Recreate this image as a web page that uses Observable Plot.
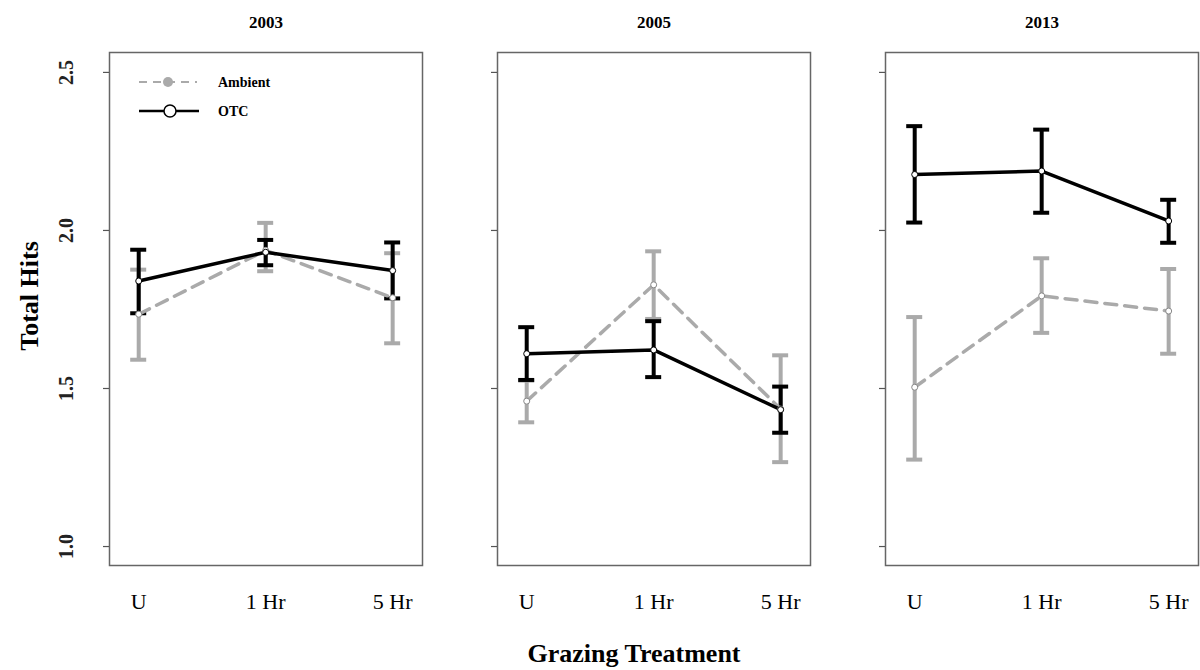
<!DOCTYPE html>
<html>
<head>
<meta charset="utf-8">
<script src="https://cdn.jsdelivr.net/npm/d3@7"></script>
<script src="https://cdn.jsdelivr.net/npm/@observablehq/plot@0.6"></script>
<style>
  body { margin: 0; background: #fff; }
  #wrap { position: relative; width: 1200px; height: 670px; font-family: "Liberation Serif", "Times New Roman", serif; }
  #ylab { position: absolute; left: 30px; top: 296px; transform: translate(-50%, -50%) rotate(-90deg); font-weight: bold; font-size: 26px; white-space: nowrap; }
  #xlab { position: absolute; left: 634px; top: 654px; transform: translate(-50%, -50%); font-weight: bold; font-size: 26px; white-space: nowrap; }
  #legend { position: absolute; left: 0; top: 0; }
</style>
</head>
<body>
<div id="wrap">
  <div id="chart"></div>
  <div id="ylab">Total Hits</div>
  <div id="xlab">Grazing Treatment</div>
  <svg id="legend" width="320" height="140" font-family="Liberation Serif, serif">
    <line x1="139" y1="82" x2="197" y2="82" stroke="#aaaaaa" stroke-width="2" stroke-dasharray="8,6"></line>
    <circle cx="168" cy="82" r="5" fill="#aaaaaa"></circle>
    <text x="218" y="82" dy="0.35em" font-weight="bold" font-size="14">Ambient</text>
    <line x1="139" y1="111" x2="199" y2="111" stroke="#000" stroke-width="2.5"></line>
    <circle cx="170" cy="111" r="6" fill="#fff" stroke="#000" stroke-width="1.5"></circle>
    <text x="218" y="111" dy="0.35em" font-weight="bold" font-size="14">OTC</text>
  </svg>
</div>
<script>
const years = ["2003", "2005", "2013"];
const treatments = ["U", "1 Hr", "5 Hr"];
const yTicks = [1.0, 1.5, 2.0, 2.5];

// Ambient: mean, lower, upper per year (treatments U, 1 Hr, 5 Hr)
const ambientMean  = [[1.735, 1.937, 1.787], [1.460, 1.828, 1.435], [1.504, 1.793, 1.745]];
const ambientLower = [[1.591, 1.871, 1.643], [1.393, 1.720, 1.267], [1.275, 1.676, 1.610]];
const ambientUpper = [[1.876, 2.024, 1.928], [1.525, 1.934, 1.605], [1.726, 1.912, 1.878]];

// OTC
const otcMean  = [[1.840, 1.931, 1.873], [1.610, 1.622, 1.433], [2.177, 2.188, 2.030]];
const otcLower = [[1.738, 1.890, 1.785], [1.527, 1.536, 1.360], [2.025, 2.056, 1.961]];
const otcUpper = [[1.939, 1.970, 1.962], [1.694, 1.713, 1.506], [2.330, 2.319, 2.097]];

function build(series, mean, lower, upper) {
  const rows = [];
  years.forEach((yr, i) => treatments.forEach((t, j) => {
    rows.push({series, year: yr, treatment: t, x: j + 1, mean: mean[i][j], lo: lower[i][j], hi: upper[i][j]});
  }));
  return rows;
}
const ambient = build("Ambient", ambientMean, ambientLower, ambientUpper);
const otc = build("OTC", otcMean, otcLower, otcUpper);

const GRAY = "#aaaaaa";
const font = "Liberation Serif, Times New Roman, serif";

function bars(data, color) {
  return [
    Plot.ruleX(data, {x: "x", y1: "lo", y2: "hi", fx: "year", stroke: color, strokeWidth: 4}),
    Plot.ruleY(data, {y: "hi", x1: "x", x2: "x", fx: "year", insetLeft: -8, insetRight: -8, stroke: color, strokeWidth: 4}),
    Plot.ruleY(data, {y: "lo", x1: "x", x2: "x", fx: "year", insetLeft: -8, insetRight: -8, stroke: color, strokeWidth: 4})
  ];
}

const chart = Plot.plot({
  width: 1200,
  height: 670,
  marginLeft: 109,
  marginRight: 1,
  marginTop: 52,
  marginBottom: 105,
  style: {fontFamily: font, background: "white", color: "black"},
  fx: {domain: years, paddingInner: 0.193, paddingOuter: 0, axis: null},
  x: {type: "linear", domain: [0.77, 3.235]},
  y: {domain: [0.94, 2.563]},
  marks: [
    Plot.frame({stroke: "#666", strokeWidth: 1.5}),
    Plot.axisY({ticks: yTicks, tickSize: 6, tickFormat: () => "", label: null, facetAnchor: null, stroke: "#555", strokeWidth: 1.2}),
    Plot.text(yTicks, {y: d => d, fx: () => "2003", text: d => d.toFixed(1), frameAnchor: "left", dx: -43, rotate: -90, textAnchor: "middle", lineAnchor: "middle", fontWeight: "bold", fontSize: 20, fill: "#222"}),
    Plot.axisX({ticks: [1, 2, 3], tickFormat: d => treatments[d - 1], tickSize: 0, tickPadding: 28, fontSize: 22, label: null}),
    Plot.text(years, {fx: d => d, text: d => d, frameAnchor: "top", dy: -30, fontWeight: "bold", fontSize: 17, lineAnchor: "middle"}),
    ...bars(ambient, GRAY),
    ...bars(otc, "#000"),
    Plot.line(ambient, {x: "x", y: "mean", fx: "year", stroke: GRAY, strokeWidth: 3.5, strokeDasharray: "12,8"}),
    Plot.line(otc, {x: "x", y: "mean", fx: "year", stroke: "#000", strokeWidth: 3.5}),
    Plot.dot(ambient, {x: "x", y: "mean", fx: "year", r: 3, fill: "white", stroke: "#888", strokeWidth: 1}),
    Plot.dot(otc, {x: "x", y: "mean", fx: "year", r: 3, fill: "white", stroke: "#000", strokeWidth: 1})
  ]
});
document.getElementById("chart").appendChild(chart);
</script>
</body>
</html>
